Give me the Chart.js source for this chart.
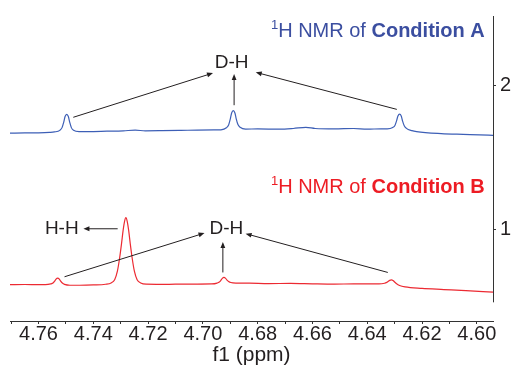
<!DOCTYPE html>
<html>
<head>
<meta charset="utf-8">
<script src="https://cdn.jsdelivr.net/npm/chart.js@4.4.1/dist/chart.umd.min.js"></script>
<style>
  html, body { margin: 0; padding: 0; background: #fff; }
</style>
</head>
<body>
<canvas id="nmrChart" width="516" height="366"></canvas>
<script>
// Condition A spectrum (blue), shift in ppm / intensity offset
const ppmA = [4.7704, 4.7650, 4.7600, 4.7560, 4.7542, 4.7522, 4.7514, 4.7508, 4.7503, 4.7497,
  4.7491, 4.7486, 4.7480, 4.7472, 4.7452, 4.7420, 4.7350, 4.7290, 4.7247, 4.7210,
  4.7150, 4.7080, 4.7020, 4.6960, 4.6934, 4.6914, 4.6906, 4.6900, 4.6895, 4.6889,
  4.6883, 4.6878, 4.6872, 4.6864, 4.6844, 4.6800, 4.6720, 4.6670, 4.6624, 4.6590,
  4.6520, 4.6450, 4.6400, 4.6350, 4.6327, 4.6307, 4.6299, 4.6293, 4.6288, 4.6282,
  4.6276, 4.6271, 4.6265, 4.6257, 4.6237, 4.6220, 4.6130, 4.6050, 4.5990, 4.5941];
const intA = [1.671, 1.672, 1.673, 1.676, 1.679, 1.690, 1.709, 1.746, 1.786, 1.801,
  1.786, 1.746, 1.709, 1.690, 1.681, 1.681, 1.684, 1.687, 1.691, 1.687,
  1.688, 1.690, 1.692, 1.693, 1.694, 1.708, 1.728, 1.768, 1.811, 1.827,
  1.811, 1.768, 1.730, 1.711, 1.699, 1.700, 1.698, 1.703, 1.711, 1.703,
  1.700, 1.703, 1.698, 1.701, 1.701, 1.710, 1.724, 1.756, 1.790, 1.803,
  1.790, 1.754, 1.722, 1.704, 1.688, 1.681, 1.667, 1.662, 1.659, 1.655];

// Condition B spectrum (red)
const ppmB = [4.7704, 4.7650, 4.7600, 4.7575, 4.7555, 4.7547, 4.7541, 4.7536, 4.7530, 4.7524,
  4.7519, 4.7513, 4.7505, 4.7485, 4.7450, 4.7400, 4.7355, 4.7335, 4.7322, 4.7312,
  4.7304, 4.7297, 4.7291, 4.7286, 4.7281, 4.7276, 4.7271, 4.7265, 4.7258, 4.7250,
  4.7240, 4.7227, 4.7207, 4.7170, 4.7100, 4.7030, 4.6968, 4.6948, 4.6940, 4.6934,
  4.6929, 4.6923, 4.6917, 4.6912, 4.6906, 4.6898, 4.6876, 4.6830, 4.6760, 4.6680,
  4.6600, 4.6520, 4.6450, 4.6400, 4.6357, 4.6337, 4.6329, 4.6323, 4.6318, 4.6312,
  4.6306, 4.6301, 4.6294, 4.6282, 4.6262, 4.6200, 4.6120, 4.6040, 4.5941];
const intB = [0.616, 0.617, 0.616, 0.616, 0.621, 0.627, 0.640, 0.655, 0.662, 0.655,
  0.640, 0.627, 0.618, 0.612, 0.612, 0.614, 0.619, 0.628, 0.650, 0.710,
  0.800, 0.900, 0.995, 1.055, 1.082, 1.055, 0.995, 0.900, 0.800, 0.710,
  0.650, 0.628, 0.619, 0.618, 0.619, 0.620, 0.621, 0.627, 0.634, 0.647,
  0.660, 0.666, 0.660, 0.648, 0.638, 0.631, 0.627, 0.626, 0.623, 0.625,
  0.622, 0.620, 0.621, 0.621, 0.621, 0.626, 0.632, 0.640, 0.646, 0.649,
  0.645, 0.636, 0.624, 0.610, 0.600, 0.590, 0.582, 0.574, 0.564];

const xTickValues = [4.77, 4.76, 4.75, 4.74, 4.73, 4.72, 4.71, 4.70, 4.69, 4.68,
  4.67, 4.66, 4.65, 4.64, 4.63, 4.62, 4.61, 4.60];
const xTickLabels = ['4.76', '4.74', '4.72', '4.70', '4.68', '4.66', '4.64', '4.62', '4.60'];
const yTickValues = [1, 2];

const font = '"Liberation Sans", Arial, sans-serif';
const ink = '#231f20';

function arrow(ctx, x0, y0, x1, y1) {
  const a = Math.atan2(y1 - y0, x1 - x0);
  const c = Math.cos(a), s = Math.sin(a);
  ctx.beginPath();
  ctx.moveTo(x0, y0);
  ctx.lineTo(x1 - 4 * c, y1 - 4 * s);
  ctx.stroke();
  ctx.beginPath();
  ctx.moveTo(x1, y1);
  ctx.lineTo(x1 - 6 * c + 2.4 * s, y1 - 6 * s - 2.4 * c);
  ctx.lineTo(x1 - 6 * c - 2.4 * s, y1 - 6 * s + 2.4 * c);
  ctx.closePath();
  ctx.fill();
}

function nmrTitle(ctx, xr, yb, cond, color) {
  const parts = [
    { t: '1', f: '13px ' + font, dy: -8 },
    { t: 'H NMR of ', f: '20px ' + font, dy: 0 },
    { t: 'Condition ' + cond, f: 'bold 20px ' + font, dy: 0 }
  ];
  let w = 0;
  parts.forEach(p => { ctx.font = p.f; p.w = ctx.measureText(p.t).width; w += p.w; });
  let x = xr - w;
  ctx.fillStyle = color;
  ctx.textAlign = 'left';
  ctx.textBaseline = 'alphabetic';
  parts.forEach(p => { ctx.font = p.f; ctx.fillText(p.t, x, yb + p.dy); x += p.w; });
}

const annotations = {
  id: 'annotations',
  afterDatasetsDraw(chart) {
    const ctx = chart.ctx;
    const xs = chart.scales.x, ys = chart.scales.y;
    const X = v => xs.getPixelForValue(v), Y = v => ys.getPixelForValue(v);
    ctx.save();

    // right axis stub
    ctx.strokeStyle = '#333';
    ctx.lineWidth = 1;
    ctx.beginPath();
    ctx.moveTo(chart.chartArea.right + 0.5, chart.chartArea.top);
    ctx.lineTo(chart.chartArea.right + 0.5, Y(0.493));
    ctx.stroke();

    nmrTitle(ctx, X(4.5971), Y(2.339), 'A', '#3b4ea0');
    nmrTitle(ctx, X(4.5971), Y(1.2555), 'B', '#ed1c24');

    ctx.fillStyle = ink;
    ctx.font = '19px ' + font;
    ctx.textAlign = 'center';
    ctx.textBaseline = 'alphabetic';
    ctx.fillText('D-H', X(4.6895), Y(2.121));
    ctx.fillText('D-H', X(4.6914), Y(0.968));
    ctx.fillText('H-H', X(4.7515), Y(0.968));

    ctx.strokeStyle = ink;
    ctx.lineWidth = 1;
    const arrows = [
      [4.7473, 1.781, 4.6963, 2.089],
      [4.6886, 1.865, 4.6886, 2.082],
      [4.6292, 1.836, 4.6807, 2.094],
      [4.7311, 1.005, 4.7436, 1.005],
      [4.7505, 0.671, 4.6994, 0.975],
      [4.6927, 0.701, 4.6927, 0.913],
      [4.6325, 0.701, 4.6844, 0.971]
    ];
    arrows.forEach(a => arrow(ctx, X(a[0]), Y(a[1]), X(a[2]), Y(a[3])));
    ctx.restore();
  }
};

new Chart(document.getElementById('nmrChart'), {
  type: 'line',
  data: {
    datasets: [{
      label: 'Condition A',
      data: ppmA.map((p, i) => ({ x: p, y: intA[i] })),
      borderColor: '#3d5fb6',
      borderWidth: 1.2,
      pointRadius: 0,
      cubicInterpolationMode: 'monotone'
    }, {
      label: 'Condition B',
      data: ppmB.map((p, i) => ({ x: p, y: intB[i] })),
      borderColor: '#ec2a32',
      borderWidth: 1.2,
      pointRadius: 0,
      cubicInterpolationMode: 'monotone'
    }]
  },
  options: {
    responsive: false,
    animation: false,
    layout: { padding: { left: 10, top: 11, right: 0, bottom: 0 } },
    plugins: { legend: { display: false }, tooltip: { enabled: false } },
    scales: {
      x: {
        type: 'linear',
        reverse: true,
        min: 4.5941,
        max: 4.7704,
        afterBuildTicks: s => { s.ticks = xTickValues.map(v => ({ value: v })); },
        afterFit: s => { s.height = 45; },
        ticks: {
          autoSkip: false,
          maxRotation: 0,
          padding: 0,
          color: ink,
          font: { family: font, size: 20, lineHeight: 1 },
          callback: v => {
            const t = v.toFixed(2);
            return xTickLabels.includes(t) ? t : '';
          }
        },
        grid: { drawOnChartArea: false, tickLength: 3, color: '#333' },
        border: { display: true, color: '#333', width: 1 },
        title: {
          display: true,
          text: 'f1 (ppm)',
          color: ink,
          padding: 0,
          font: { family: font, size: 21, lineHeight: 1 }
        }
      },
      y: {
        type: 'linear',
        position: 'right',
        min: 0.363,
        max: 2.486,
        afterBuildTicks: s => { s.ticks = yTickValues.map(v => ({ value: v })); },
        afterFit: s => { s.width = 23; },
        ticks: {
          padding: 4,
          color: ink,
          font: { family: font, size: 20 },
          callback: v => String(v)
        },
        grid: { drawOnChartArea: false, tickLength: 3, color: '#333' },
        border: { display: false }
      }
    }
  },
  plugins: [annotations]
});
</script>
</body>
</html>
